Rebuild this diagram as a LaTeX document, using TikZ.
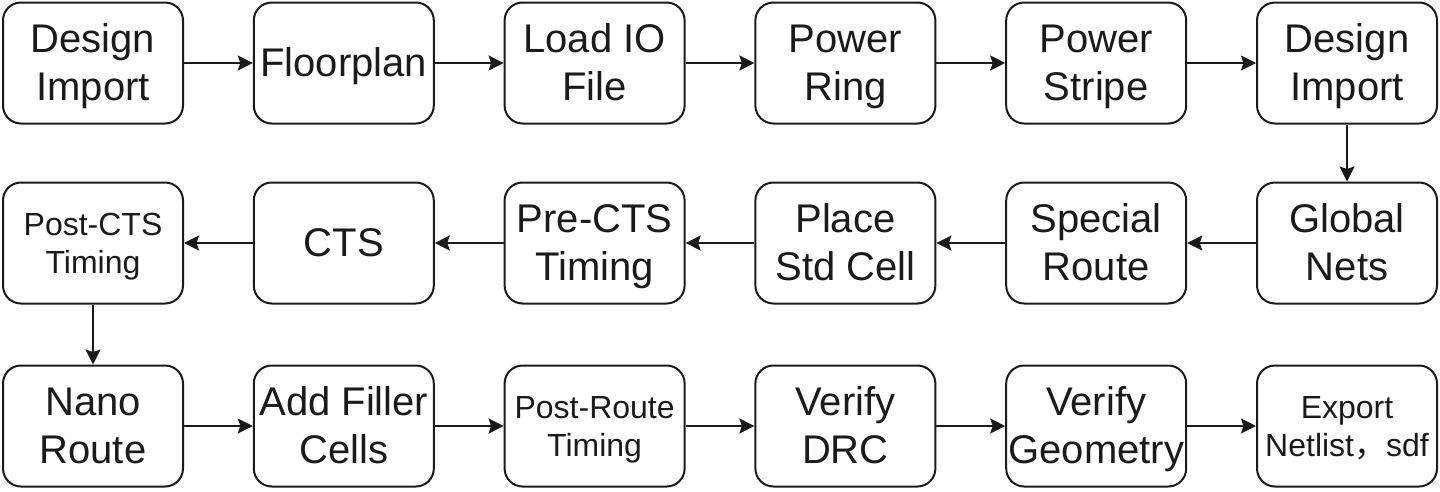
\documentclass[tikz,border=0pt]{standalone}
\usepackage{fontspec}
\setmainfont{Liberation Sans}
\newfontfamily\cjk{Noto Sans CJK SC}
\usetikzlibrary{arrows.meta}
\definecolor{ink}{HTML}{1A1A1A}
% line struts: big text (h-d=26), small text (h-d=22)
\newcommand\bigstrt{\rule[-10pt]{0pt}{46pt}}
\newcommand\smlstrt{\rule[-8pt]{0pt}{38pt}}
\tikzset{
  x=1pt, y=-1pt,
  stepbox/.style={draw=ink, line width=2pt, rounded corners=18pt,
    minimum width=180pt, minimum height=121pt, inner sep=0pt,
    align=center, text=ink, font=\fontsize{40}{48}\selectfont},
  smalltext/.style={font=\fontsize{32}{38}\selectfont},
  flow/.style={draw=ink, line width=2pt, -{Stealth[length=15pt,width=15pt,inset=2.5pt]}}
}
\begin{document}
\begin{tikzpicture}
\useasboundingbox (0,0) rectangle (1440,491);
\def\cx#1{3+90+250.8*#1}
% row 1
\node[stepbox] (a1) at ({\cx{0}},63) {\bigstrt Design\\\bigstrt Import};
\node[stepbox] (a2) at ({\cx{1}},63) {\bigstrt Floorplan};
\node[stepbox] (a3) at ({\cx{2}},63) {\bigstrt Load IO\\\bigstrt File};
\node[stepbox] (a4) at ({\cx{3}},63) {\bigstrt Power\\\bigstrt Ring};
\node[stepbox] (a5) at ({\cx{4}},63) {\bigstrt Power\\\bigstrt Stripe};
\node[stepbox] (a6) at ({\cx{5}},63) {\bigstrt Design\\\bigstrt Import};
% row 2
\node[stepbox] (b6) at ({\cx{5}},243) {\bigstrt Global\\\bigstrt Nets};
\node[stepbox] (b5) at ({\cx{4}},243) {\bigstrt Special\\\bigstrt Route};
\node[stepbox] (b4) at ({\cx{3}},243) {\bigstrt Place\\\bigstrt Std Cell};
\node[stepbox] (b3) at ({\cx{2}},243) {\bigstrt Pre-CTS\\\bigstrt Timing};
\node[stepbox] (b2) at ({\cx{1}},243) {\bigstrt CTS};
\node[stepbox,smalltext] (b1) at ({\cx{0}},243) {\smlstrt Post-CTS\\\smlstrt Timing};
% row 3
\node[stepbox] (c1) at ({\cx{0}},426) {\bigstrt Nano\\\bigstrt Route};
\node[stepbox] (c2) at ({\cx{1}},426) {\bigstrt Add Filler\\\bigstrt Cells};
\node[stepbox,smalltext] (c3) at ({\cx{2}},426) {\smlstrt Post-Route\\\smlstrt Timing};
\node[stepbox] (c4) at ({\cx{3}},426) {\bigstrt Verify\\\bigstrt DRC};
\node[stepbox] (c5) at ({\cx{4}},426) {\bigstrt Verify\\\bigstrt Geometry};
\node[stepbox,smalltext] (c6) at ({\cx{5}},426) {\smlstrt Export\\\smlstrt Netlist{\cjk ，}sdf};
% connectors
\draw[flow] (a1) -- (a2);
\draw[flow] (a2) -- (a3);
\draw[flow] (a3) -- (a4);
\draw[flow] (a4) -- (a5);
\draw[flow] (a5) -- (a6);
\draw[flow] (a6) -- (b6);
\draw[flow] (b6) -- (b5);
\draw[flow] (b5) -- (b4);
\draw[flow] (b4) -- (b3);
\draw[flow] (b3) -- (b2);
\draw[flow] (b2) -- (b1);
\draw[flow] (b1) -- (c1);
\draw[flow] (c1) -- (c2);
\draw[flow] (c2) -- (c3);
\draw[flow] (c3) -- (c4);
\draw[flow] (c4) -- (c5);
\draw[flow] (c5) -- (c6);
\end{tikzpicture}
\end{document}
